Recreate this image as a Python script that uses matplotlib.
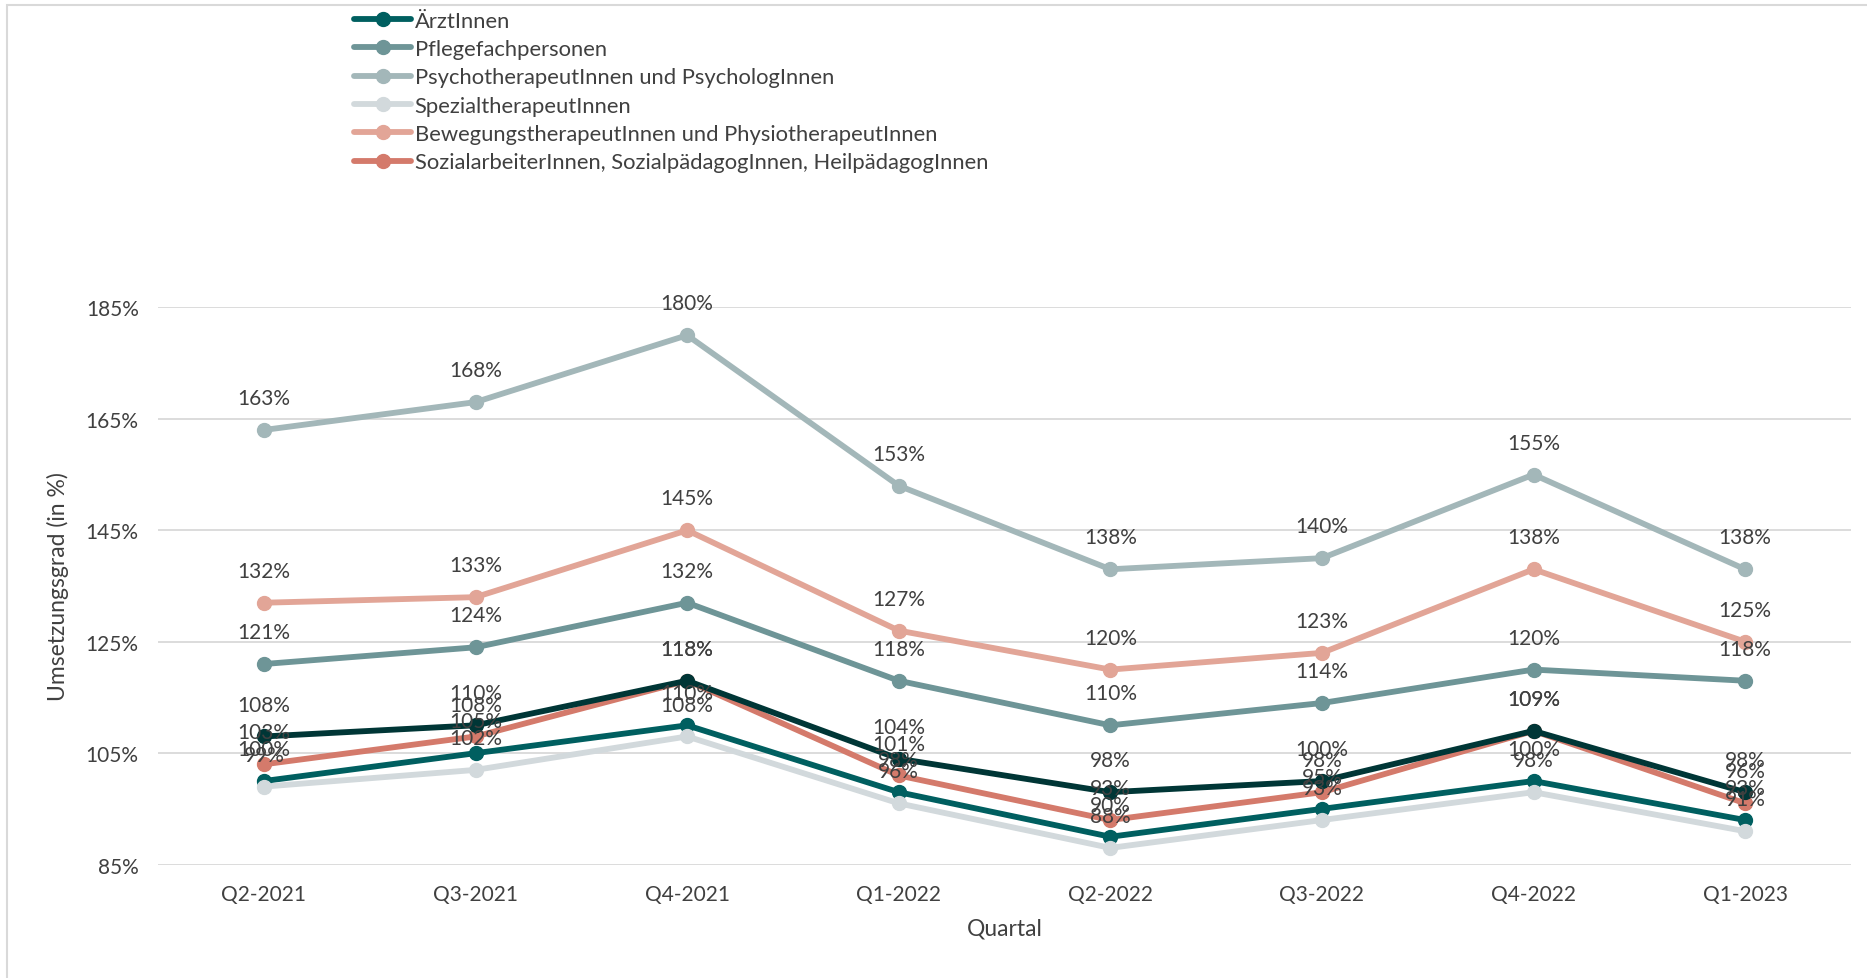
import matplotlib
matplotlib.use("Agg")
import matplotlib.pyplot as plt
from matplotlib.patches import Rectangle
from matplotlib.ticker import FuncFormatter

plt.rcParams["font.family"] = ["Lato", "DejaVu Sans"]

quarters = ["Q2-2021", "Q3-2021", "Q4-2021", "Q1-2022", "Q2-2022", "Q3-2022", "Q4-2022", "Q1-2023"]

aerzte = [100, 105, 110, 98, 90, 95, 100, 93]
pflege = [121, 124, 132, 118, 110, 114, 120, 118]
psycho = [163, 168, 180, 153, 138, 140, 155, 138]
spezial = [99, 102, 108, 96, 88, 93, 98, 91]
bewegung = [132, 133, 145, 127, 120, 123, 138, 125]
sozial = [103, 108, 118, 101, 93, 98, 109, 96]
total = [108, 110, 118, 104, 98, 100, 109, 98]  # dunkle Linie ohne Legendeneintrag

series = [
    ("ÄrztInnen", aerzte, "#005f60"),
    ("Pflegefachpersonen", pflege, "#6e9597"),
    ("PsychotherapeutInnen und PsychologInnen", psycho, "#a3b7b9"),
    ("SpezialtherapeutInnen", spezial, "#d2d9dc"),
    ("BewegungstherapeutInnen und PhysiotherapeutInnen", bewegung, "#e2a597"),
    ("SozialarbeiterInnen, SozialpädagogInnen, HeilpädagogInnen", sozial, "#d47a6b"),
    (None, total, "#003636"),
]

TXT = "#404040"
fig = plt.figure(figsize=(18.67, 9.79), dpi=100)
ax = fig.add_axes([0.0847, 0.1158, 0.9067, 0.5692])

x = list(range(len(quarters)))
handles = []
for name, vals, col in series:
    ln, = ax.plot(x, vals, color=col, lw=4.2, marker="o", ms=10, zorder=3,
                  label=name if name else "_nolegend_", solid_capstyle="round")
    if name:
        handles.append(ln)
    for xi, v in zip(x, vals):
        ax.annotate(f"{v}%", (xi, v), xytext=(0, 23), textcoords="offset points",
                    ha="center", va="center", fontsize=15, color=TXT, zorder=4)

ax.set_xlim(-0.5, len(quarters) - 0.5)
ax.set_ylim(85, 185)
ax.set_yticks([85, 105, 125, 145, 165, 185])
ax.yaxis.set_major_formatter(FuncFormatter(lambda v, p: f"{v:.0f}%"))
ax.set_xticks(x)
ax.set_xticklabels(quarters)
ax.tick_params(length=0, labelsize=15, labelcolor=TXT, pad=14)
ax.grid(axis="y", color="#d9d9d9", lw=1.3, zorder=0)
for s in ax.spines.values():
    s.set_visible(False)
ax.set_xlabel("Quartal", fontsize=16.5, color=TXT, labelpad=10)
ax.set_ylabel("Umsetzungsgrad (in %)", fontsize=16.5, color=TXT, labelpad=12)

fig.legend(handles=handles, loc="upper left", bbox_to_anchor=(0.185, 0.997),
           frameon=False, fontsize=15.8, labelcolor=TXT, handlelength=2.6,
           handletextpad=0.15, labelspacing=0.38, borderaxespad=0)

fig.patches.append(Rectangle((0.004, -0.01), 1.0, 1.004, transform=fig.transFigure,
                             fill=False, edgecolor="#d9d9d9", lw=1.5))

fig.savefig("out.png", dpi=100)
